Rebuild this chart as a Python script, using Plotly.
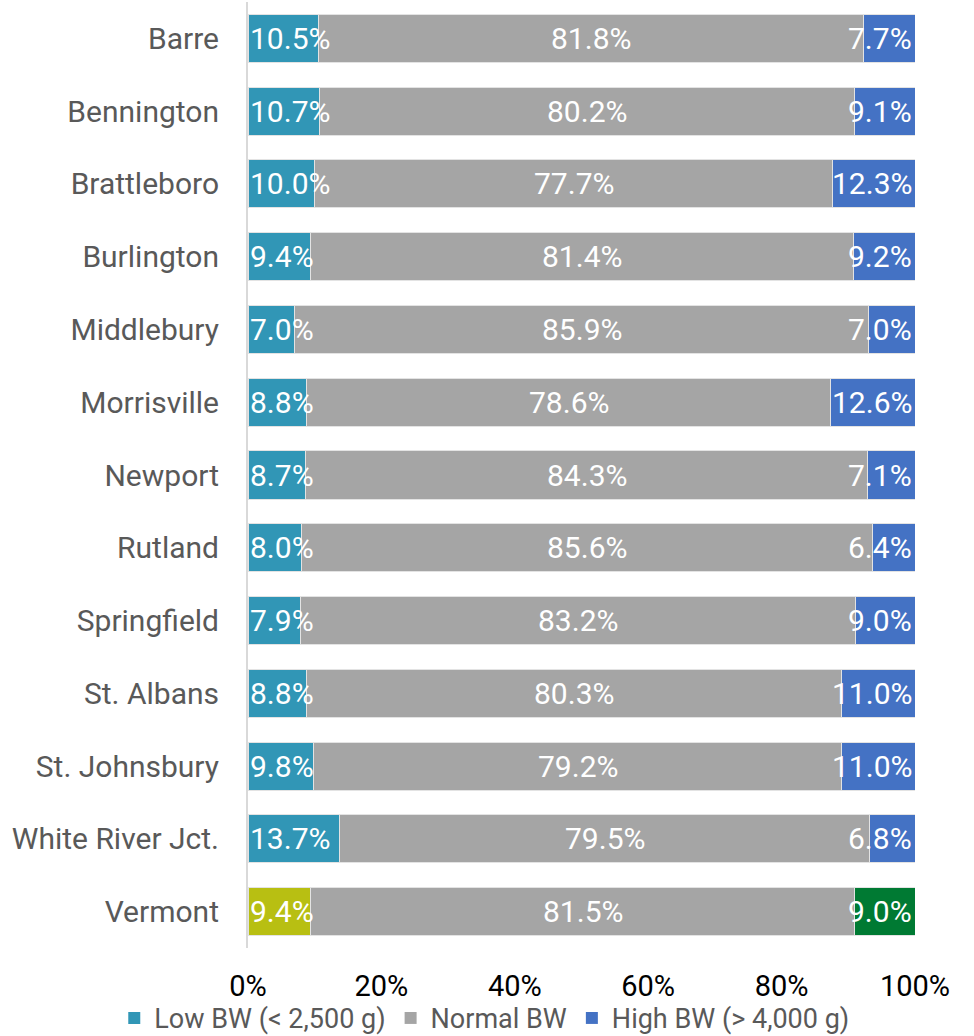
import plotly.graph_objects as go

categories = ["Barre", "Bennington", "Brattleboro", "Burlington", "Middlebury",
              "Morrisville", "Newport", "Rutland", "Springfield", "St. Albans",
              "St. Johnsbury", "White River Jct.", "Vermont"]
low_bw = [10.5, 10.7, 10.0, 9.4, 7.0, 8.8, 8.7, 8.0, 7.9, 8.8, 9.8, 13.7, 9.4]
normal_bw = [81.8, 80.2, 77.7, 81.4, 85.9, 78.6, 84.3, 85.6, 83.2, 80.3, 79.2, 79.5, 81.5]
high_bw = [7.7, 9.1, 12.3, 9.2, 7.0, 12.6, 7.1, 6.4, 9.0, 11.0, 11.0, 6.8, 9.0]
series_names = ["Low BW (< 2,500 g)", "Normal BW", "High BW (> 4,000 g)"]
tick_vals = [0, 20, 40, 60, 80, 100]
tick_text = ["0%", "20%", "40%", "60%", "80%", "100%"]

LOW_C, NORM_C, HIGH_C = "#3196B6", "#A5A5A5", "#4472C4"
VT_LOW_C, VT_HIGH_C = "#B8BF12", "#007A33"
series_colors = [LOW_C, NORM_C, HIGH_C]

low_colors = [VT_LOW_C if c == "Vermont" else LOW_C for c in categories]
high_colors = [VT_HIGH_C if c == "Vermont" else HIGH_C for c in categories]

FONT = "Roboto"
line = dict(color="#E3E3E3", width=1)

fig = go.Figure()
for vals, cols, name in [(low_bw, low_colors, series_names[0]),
                         (normal_bw, NORM_C, series_names[1]),
                         (high_bw, high_colors, series_names[2])]:
    fig.add_trace(go.Bar(y=categories, x=vals, name=name, orientation="h",
                         marker=dict(color=cols, line=line), showlegend=False,
                         hoverinfo="x+y"))

# legend entries (legend-only, no data)
for name, col in zip(series_names, series_colors):
    fig.add_trace(go.Scatter(x=[None], y=[None], mode="markers", name=name,
                             marker=dict(symbol="square", size=17, color=col),
                             showlegend=True))

annotations = []
lab_font = dict(family=FONT, size=30, color="white")
for c, lo, no, hi in zip(categories, low_bw, normal_bw, high_bw):
    tot = lo + no + hi
    annotations.append(dict(x=0, y=c, xref="x", yref="y", text=f"{lo:.1f}%",
                            showarrow=False, xanchor="left", xshift=0, font=lab_font))
    annotations.append(dict(x=(lo + no / 2) / tot * 100, y=c, xref="x", yref="y",
                            text=f"{no:.1f}%", showarrow=False, xanchor="center",
                            font=lab_font))
    annotations.append(dict(x=100, y=c, xref="x", yref="y", text=f"{hi:.1f}%",
                            showarrow=False, xanchor="right", xshift=-1, font=lab_font))

fig.update_layout(
    barmode="stack", barnorm="percent", bargap=0.34,
    width=974, height=1036,
    margin=dict(l=248, r=59, t=2, b=88, autoexpand=False),
    paper_bgcolor="white", plot_bgcolor="white",
    font=dict(family=FONT, color="#595959"),
    annotations=annotations,
    showlegend=True,
    legend=dict(orientation="h", x=-0.2005, xanchor="left", y=-0.0485, yanchor="top",
                font=dict(family=FONT, size=27, color="#595959"),
                itemsizing="constant", traceorder="normal", itemwidth=30,
                tracegroupgap=0, bgcolor="rgba(0,0,0,0)"),
    xaxis=dict(range=[0, 100], tickvals=tick_vals, ticktext=tick_text,
               showgrid=False, zeroline=False, showline=False,
               tickfont=dict(family=FONT, size=29, color="black"),
               ticks="outside", ticklen=12, tickcolor="rgba(0,0,0,0)"),
    yaxis=dict(autorange="reversed", showgrid=False, zeroline=False,
               showline=True, linecolor="#D9D9D9", linewidth=2,
               ticks="outside", ticklen=21, tickcolor="rgba(0,0,0,0)",
               tickfont=dict(family=FONT, size=30, color="#595959")),
)

fig.write_html("out.html", config={"displayModeBar": False},
               post_script="document.body.style.margin='0';")
